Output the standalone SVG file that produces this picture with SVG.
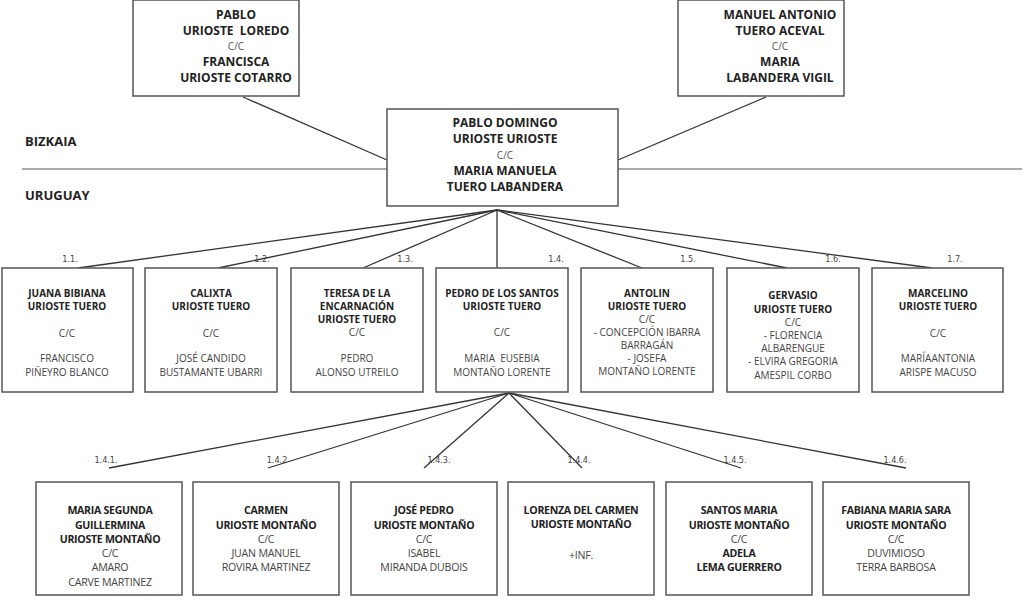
<svg xmlns="http://www.w3.org/2000/svg" width="1024" height="610" viewBox="0 0 1024 610">
<style>
.box{fill:#fff;stroke:#555;stroke-width:1.5}
.ln{stroke:#333;stroke-width:1.3;fill:none}
text{font-family:"Open Sans","Noto Sans",sans-serif;text-anchor:middle;white-space:pre}
.t1{font-size:12px;font-weight:bold;fill:#222}
.c1{font-size:10px;fill:#555}
.b2{font-size:10px;font-weight:bold;fill:#222}
.r2{font-size:10px;fill:#444}
.b3{font-size:10.6px;font-weight:bold;fill:#222;letter-spacing:-0.3px}
.r3{font-size:10.6px;fill:#444;letter-spacing:-0.2px}
.lab{font-family:"DejaVu Sans Condensed","DejaVu Sans",sans-serif;font-size:9px;fill:#444}
.reg{font-size:13px;font-weight:bold;fill:#222;text-anchor:start}
</style>
<rect width="1024" height="610" fill="#fff"/>
<g id="regions">
<line x1="22" y1="169" x2="387" y2="169" stroke="#555" stroke-width="1"/>
<line x1="618" y1="169" x2="1022" y2="169" stroke="#555" stroke-width="1"/>
<text class="reg" x="25" y="146">BIZKAIA</text>
<text class="reg" x="25" y="200">URUGUAY</text>
</g>
<g id="connectors">
<line class="ln" x1="243" y1="97" x2="387" y2="160"/>
<line class="ln" x1="766" y1="97" x2="618" y2="160"/>
<line class="ln" x1="497" y1="210" x2="78" y2="268"/>
<line class="ln" x1="497" y1="210" x2="218" y2="268"/>
<line class="ln" x1="497" y1="210" x2="363" y2="268"/>
<line class="ln" x1="497" y1="210" x2="497" y2="268"/>
<line class="ln" x1="497" y1="210" x2="642" y2="268"/>
<line class="ln" x1="497" y1="210" x2="787" y2="268"/>
<line class="ln" x1="497" y1="210" x2="932" y2="268"/>
<line class="ln" x1="509" y1="393" x2="109" y2="468"/>
<line class="ln" x1="509" y1="393" x2="268" y2="468"/>
<line class="ln" x1="509" y1="393" x2="424" y2="468"/>
<line class="ln" x1="509" y1="393" x2="582" y2="468"/>
<line class="ln" x1="509" y1="393" x2="741" y2="468"/>
<line class="ln" x1="509" y1="393" x2="906" y2="468"/>
<text class="lab" x="70" y="262">1.1.</text>
<text class="lab" x="262" y="262">1.2.</text>
<text class="lab" x="405" y="262">1.3.</text>
<text class="lab" x="556" y="262">1.4.</text>
<text class="lab" x="688" y="262">1.5.</text>
<text class="lab" x="833" y="262">1.6.</text>
<text class="lab" x="955" y="262">1.7.</text>
<text class="lab" x="106" y="463">1.4.1.</text>
<text class="lab" x="277" y="463">1.4.2</text>
<text class="lab" x="439" y="463">1.4.3.</text>
<text class="lab" x="579" y="463">1.4.4.</text>
<text class="lab" x="735" y="463">1.4.5.</text>
<text class="lab" x="895" y="463">1.4.6.</text>
</g>
<g id="n-pablo">
<rect class="box" x="133" y="0" width="166" height="96"/>
<text class="t1" x="236" y="19">PABLO</text>
<text class="t1" x="236" y="35">URIOSTE  LOREDO</text>
<text class="c1" x="236" y="50">C/C</text>
<text class="t1" x="236" y="66">FRANCISCA</text>
<text class="t1" x="236" y="82">URIOSTE COTARRO</text>
</g>
<g id="n-manuel">
<rect class="box" x="678" y="0" width="166" height="96"/>
<text class="t1" x="780" y="19">MANUEL ANTONIO</text>
<text class="t1" x="780" y="35">TUERO ACEVAL</text>
<text class="c1" x="780" y="50">C/C</text>
<text class="t1" x="780" y="66">MARIA</text>
<text class="t1" x="780" y="82">LABANDERA VIGIL</text>
</g>
<g id="n-pablo-domingo">
<rect class="box" x="387" y="109" width="231" height="97"/>
<text class="t1" x="505" y="127">PABLO DOMINGO</text>
<text class="t1" x="505" y="143">URIOSTE URIOSTE</text>
<text class="c1" x="505" y="159">C/C</text>
<text class="t1" x="505" y="175">MARIA MANUELA</text>
<text class="t1" x="505" y="191">TUERO LABANDERA</text>
</g>
<g id="n-1-1">
<rect class="box" x="2" y="268" width="131" height="124"/>
<text class="b2" x="67" y="297">JUANA BIBIANA</text>
<text class="b2" x="67" y="310">URIOSTE TUERO</text>
<text class="r2" x="67" y="337">C/C</text>
<text class="r2" x="67" y="362">FRANCISCO</text>
<text class="r2" x="67" y="376">PIÑEYRO BLANCO</text>
</g>
<g id="n-1-2">
<rect class="box" x="145" y="268" width="132" height="124"/>
<text class="b2" x="211" y="297">CALIXTA</text>
<text class="b2" x="211" y="310">URIOSTE TUERO</text>
<text class="r2" x="211" y="337">C/C</text>
<text class="r2" x="211" y="362">JOSÉ CANDIDO</text>
<text class="r2" x="211" y="376">BUSTAMANTE UBARRI</text>
</g>
<g id="n-1-3">
<rect class="box" x="291" y="268" width="132" height="124"/>
<text class="b2" x="357" y="297">TERESA DE LA</text>
<text class="b2" x="357" y="310">ENCARNACIÓN</text>
<text class="b2" x="357" y="323">URIOSTE TUERO</text>
<text class="r2" x="357" y="336">C/C</text>
<text class="r2" x="357" y="362">PEDRO</text>
<text class="r2" x="357" y="376">ALONSO UTREILO</text>
</g>
<g id="n-1-4">
<rect class="box" x="436" y="268" width="132" height="124"/>
<text class="b2" x="502" y="297">PEDRO DE LOS SANTOS</text>
<text class="b2" x="502" y="310">URIOSTE TUERO</text>
<text class="r2" x="502" y="336">C/C</text>
<text class="r2" x="502" y="362">MARIA  EUSEBIA</text>
<text class="r2" x="502" y="376">MONTAÑO LORENTE</text>
</g>
<g id="n-1-5">
<rect class="box" x="581" y="268" width="132" height="124"/>
<text class="b2" x="647" y="297">ANTOLIN</text>
<text class="b2" x="647" y="310">URIOSTE TUERO</text>
<text class="r2" x="647" y="323">C/C</text>
<text class="r2" x="647" y="336">- CONCEPCIÓN IBARRA</text>
<text class="r2" x="647" y="349">BARRAGÁN</text>
<text class="r2" x="647" y="362">- JOSEFA</text>
<text class="r2" x="647" y="375">MONTAÑO LORENTE</text>
</g>
<g id="n-1-6">
<rect class="box" x="727" y="268" width="132" height="124"/>
<text class="b2" x="793" y="299">GERVASIO</text>
<text class="b2" x="793" y="313">URIOSTE TUERO</text>
<text class="r2" x="793" y="326">C/C</text>
<text class="r2" x="793" y="339">- FLORENCIA</text>
<text class="r2" x="793" y="352">ALBARENGUE</text>
<text class="r2" x="793" y="365">- ELVIRA GREGORIA</text>
<text class="r2" x="793" y="379">AMESPIL CORBO</text>
</g>
<g id="n-1-7">
<rect class="box" x="872" y="268" width="131" height="124"/>
<text class="b2" x="938" y="297">MARCELINO</text>
<text class="b2" x="938" y="310">URIOSTE TUERO</text>
<text class="r2" x="938" y="337">C/C</text>
<text class="r2" x="938" y="362">MARÍAANTONIA</text>
<text class="r2" x="938" y="376">ARISPE MACUSO</text>
</g>
<g id="n-1-4-1">
<rect class="box" x="36" y="482" width="146" height="113"/>
<text class="b3" x="110" y="514">MARIA SEGUNDA</text>
<text class="b3" x="110" y="529">GUILLERMINA</text>
<text class="b3" x="110" y="543">URIOSTE MONTAÑO</text>
<text class="r3" x="110" y="557">C/C</text>
<text class="r3" x="110" y="571">AMARO</text>
<text class="r3" x="110" y="586">CARVE MARTINEZ</text>
</g>
<g id="n-1-4-2">
<rect class="box" x="193" y="482" width="146" height="113"/>
<text class="b3" x="266" y="514">CARMEN</text>
<text class="b3" x="266" y="529">URIOSTE MONTAÑO</text>
<text class="r3" x="266" y="543">C/C</text>
<text class="r3" x="266" y="557">JUAN MANUEL</text>
<text class="r3" x="266" y="571">ROVIRA MARTINEZ</text>
</g>
<g id="n-1-4-3">
<rect class="box" x="351" y="482" width="146" height="113"/>
<text class="b3" x="424" y="514">JOSÉ PEDRO</text>
<text class="b3" x="424" y="529">URIOSTE MONTAÑO</text>
<text class="r3" x="424" y="543">C/C</text>
<text class="r3" x="424" y="557">ISABEL</text>
<text class="r3" x="424" y="571">MIRANDA DUBOIS</text>
</g>
<g id="n-1-4-4">
<rect class="box" x="508" y="482" width="146" height="113"/>
<text class="b3" x="581" y="514">LORENZA DEL CARMEN</text>
<text class="b3" x="581" y="528">URIOSTE MONTAÑO</text>
<text class="r3" x="581" y="559">+INF.</text>
</g>
<g id="n-1-4-5">
<rect class="box" x="666" y="482" width="146" height="113"/>
<text class="b3" x="739" y="514">SANTOS MARIA</text>
<text class="b3" x="739" y="529">URIOSTE MONTAÑO</text>
<text class="r3" x="739" y="543">C/C</text>
<text class="b3" x="739" y="557">ADELA</text>
<text class="b3" x="739" y="571">LEMA GUERRERO</text>
</g>
<g id="n-1-4-6">
<rect class="box" x="823" y="482" width="146" height="113"/>
<text class="b3" x="896" y="514">FABIANA MARIA SARA</text>
<text class="b3" x="896" y="529">URIOSTE MONTAÑO</text>
<text class="r3" x="896" y="543">C/C</text>
<text class="r3" x="896" y="557">DUVIMIOSO</text>
<text class="r3" x="896" y="571">TERRA BARBOSA</text>
</g>
</svg>
